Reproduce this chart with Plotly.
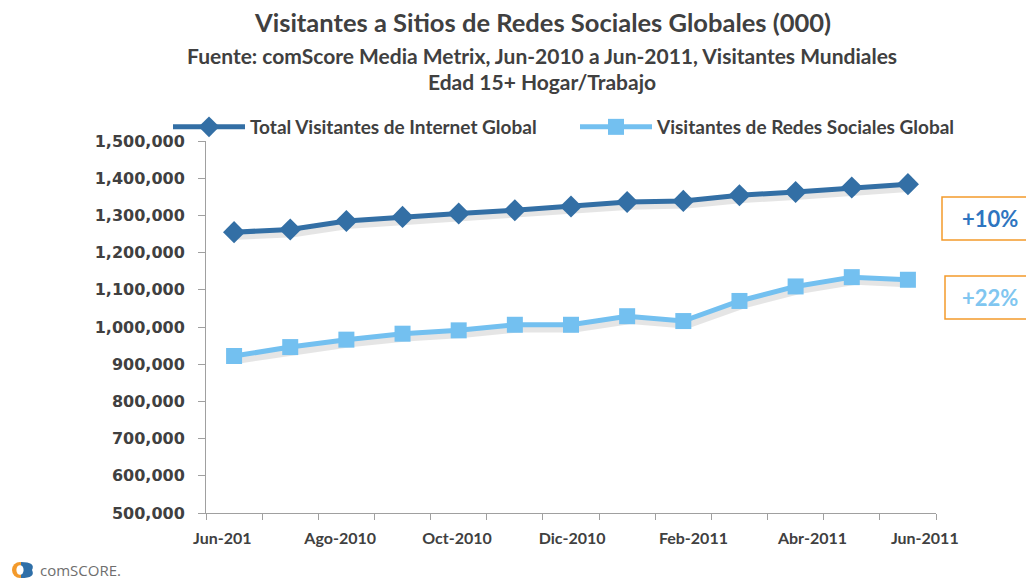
import plotly.graph_objects as go

months = ["Jun-2010", "Jul-2010", "Ago-2010", "Sep-2010", "Oct-2010", "Nov-2010", "Dic-2010",
          "Ene-2011", "Feb-2011", "Mar-2011", "Abr-2011", "May-2011", "Jun-2011"]
internet_total = [1255000, 1262000, 1285000, 1296000, 1305000, 1314000, 1324000,
                  1336000, 1339000, 1354000, 1363000, 1375000, 1384000]
social_total = [922000, 946000, 966000, 982000, 991000, 1006000, 1006000,
                1029000, 1016000, 1070000, 1109000, 1134000, 1127000]
tick_labels = ["Jun-201", "Ago-2010", "Oct-2010", "Dic-2010", "Feb-2011", "Abr-2011", "Jun-2011"]
tick_label_pos = [0.29, 2.39, 4.47, 6.52, 8.68, 10.8, 12.8]
growth_labels = ["+10%", "+22%"]

DARK = "#336FA5"
LIGHT = "#73C0F0"
TEXT = "#404040"
FONT = "Lato"

# page renders with an ~8px body offset; figure coordinates = reference - 8
W, H = 1026, 573
L, T, R, B = 198, 133, 928, 505
PW, PH = R - L, B - T


def px(xr):
    return (xr - 8 - L) / PW


def py(yr):
    return 1 - (yr - 8 - T) / PH


xpos = [i + 0.5 for i in range(len(months))]

fig = go.Figure()

# soft shadows
for ys in (internet_total, social_total):
    fig.add_trace(go.Scatter(
        x=[v + 0.06 for v in xpos], y=[v - 10000 for v in ys], mode="lines",
        line=dict(color="rgba(0,0,0,0.10)", width=8), hoverinfo="skip", showlegend=False))

fig.add_trace(go.Scatter(
    x=xpos, y=internet_total, mode="lines+markers", name="Total Visitantes de Internet Global",
    line=dict(color=DARK, width=5),
    marker=dict(symbol="diamond", size=17, color=DARK)))
fig.add_trace(go.Scatter(
    x=xpos, y=social_total, mode="lines+markers", name="Visitantes de Redes Sociales Global",
    line=dict(color=LIGHT, width=5),
    marker=dict(symbol="square", size=16, color=LIGHT)))

fig.update_layout(
    width=W, height=H,
    margin=dict(l=L, r=W - R, t=T, b=H - B),
    paper_bgcolor="white", plot_bgcolor="white",
    showlegend=True,
    legend=dict(orientation="h", x=px(168), xanchor="left", y=py(127), yanchor="middle",
                font=dict(family=FONT, size=19, color=TEXT, weight="bold"),
                entrywidth=320, entrywidthmode="pixels", itemwidth=72,
                bgcolor="rgba(0,0,0,0)"),
    xaxis=dict(range=[0, 13], showgrid=False, zeroline=False,
               showline=True, linecolor="#A0A0A0", linewidth=1,
               tickvals=tick_label_pos, ticktext=tick_labels, ticks="", ticklabelstandoff=11,
               tickfont=dict(family=FONT, size=16, color=TEXT, weight="bold"),
               minor=dict(tick0=0, dtick=1, ticks="outside", ticklen=6, tickcolor="#A0A0A0", showgrid=False)),
    yaxis=dict(range=[500000, 1500000], dtick=100000, showgrid=False, zeroline=False,
               showline=True, linecolor="#A0A0A0", linewidth=1,
               ticks="outside", ticklen=7, tickcolor="#A0A0A0", tickformat=",d", ticklabelstandoff=10,
               tickfont=dict(family="DejaVu Sans", size=16, color=TEXT, weight="bold")),
)

annots = [
    dict(text="Visitantes a Sitios de Redes Sociales Globales (000)", y=22, size=25.5),
    dict(text="Fuente: comScore Media Metrix, Jun-2010 a Jun-2011, Visitantes Mundiales", y=55, size=21),
    dict(text="Edad 15+ Hogar/Trabajo", y=82, size=21),
]
for a in annots:
    fig.add_annotation(text=a["text"], xref="paper", yref="paper",
                       x=px(542), y=py(a["y"]),
                       xanchor="center", yanchor="middle", showarrow=False,
                       font=dict(family=FONT, size=a["size"], color=TEXT, weight="bold"))

# growth boxes (extend past the right edge)
boxes = [(growth_labels[0], 218.5, 942, "#2E75C0"), (growth_labels[1], 297.5, 945, "#80C6F0")]
for txt, yc, xl, col in boxes:
    fig.add_shape(type="rect", xref="paper", yref="paper",
                  x0=px(xl), x1=px(1060), y0=py(yc - 21.5), y1=py(yc + 21.5),
                  line=dict(color="#F39A2B", width=1.5), fillcolor="white", layer="above")
    fig.add_annotation(text=txt, xref="paper", yref="paper",
                       x=px(990), y=py(yc), xanchor="center", yanchor="middle", showarrow=False,
                       font=dict(family=FONT, size=22, color=col, weight="bold"))

# comScore logo
cx, cy = px(20), py(570)
rx, ry = 8 / PW, 8 / PH
fig.add_shape(type="circle", xref="paper", yref="paper",
              x0=cx - rx, x1=cx + rx, y0=cy - ry, y1=cy + ry,
              line=dict(width=0), fillcolor="#F39A2B", layer="above")
fig.add_shape(type="rect", xref="paper", yref="paper",
              x0=cx + 1 / PW, x1=cx + rx + 1 / PW, y0=cy - ry, y1=cy + ry,
              line=dict(width=0), fillcolor="white", layer="above")
fig.add_shape(type="path", xref="paper", yref="paper",
              path=f"M {cx + 1/PW},{cy + ry} Q {cx + 2*rx},{cy + ry} {cx + 2*rx - 4/PW},{cy} "
                   f"Q {cx + 2*rx},{cy - ry} {cx + 1/PW},{cy - ry} Z",
              line=dict(width=0), fillcolor="#2F6FA8", layer="above")
fig.add_shape(type="circle", xref="paper", yref="paper",
              x0=cx - rx * 0.45, x1=cx + rx * 0.45, y0=cy - ry * 0.6, y1=cy + ry * 0.6,
              line=dict(width=0), fillcolor="white", layer="above")
fig.add_annotation(text="comSCORE.", xref="paper", yref="paper", x=px(38), y=py(570),
                   xanchor="left", yanchor="middle", showarrow=False,
                   font=dict(family="Open Sans", size=15, color="#6E6E6E"))

fig.write_html("out.html")
